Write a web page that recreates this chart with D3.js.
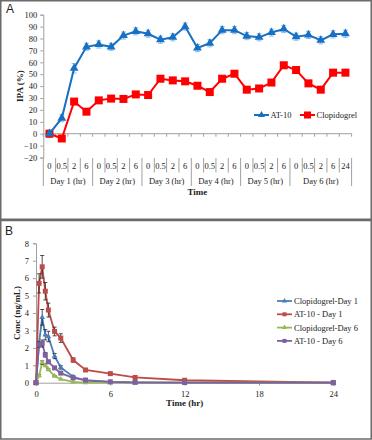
<!DOCTYPE html>
<html>
<head>
<meta charset="utf-8">
<script src="https://cdn.jsdelivr.net/npm/d3@7"></script>
<style>
  body { margin: 0; background: #fff; }
  text { font-family: "Liberation Serif", "DejaVu Serif", serif; fill: #222; }
  .panelLetter { font-family: "Liberation Sans", Arial, sans-serif; font-size: 12px; }
  .axisTitle { font-weight: bold; font-size: 9px; }
</style>
</head>
<body>
<div class="chart"></div>
<script>
// ---------- Panel A data ----------
var dayLabels = ["Day 1 (hr)", "Day 2 (hr)", "Day 3 (hr)", "Day 4 (hr)", "Day 5 (hr)", "Day 6 (hr)"];
var dayHours = [
  ["0", "0.5", "2", "6"],
  ["0", "0.5", "2", "6"],
  ["0", "0.5", "2", "6"],
  ["0", "0.5", "2", "6"],
  ["0", "0.5", "2", "6"],
  ["0", "0.5", "2", "6", "24"]
];
var at10Ipa = [0, 13, 55, 73, 75, 73, 82.5, 86, 84, 79, 81, 90, 72, 76, 87, 87, 82, 81, 85, 88, 81.5, 83, 78.5, 83.5, 84];
var at10Err = [3, 3, 4, 3, 3, 3, 3, 3, 3, 3, 3, 3, 3, 3, 3, 3, 3, 3, 3, 3, 3, 3, 3, 3, 3];
var clopIpa = [0, -4, 27, 18.5, 28, 29.5, 29.2, 33, 32.5, 46.2, 44.8, 44, 40.3, 35, 46.2, 50.4, 37, 38, 43, 57.5, 53.5, 42.3, 37, 51.3, 51.3];
var ipaTicks = [-20, -10, 0, 10, 20, 30, 40, 50, 60, 70, 80, 90, 100];

// ---------- Panel B data ----------
var pkTimes = [0, 0.25, 0.5, 0.75, 1, 1.5, 2, 3, 4, 6, 8, 12, 24];
var clopDay1 = [0, 2.3, 3.75, 2.75, 2.65, 1.53, 0.88, 0.34, 0.12, 0.04, 0.01, 0, 0];
var clopDay1Err = [0, 0, 0.45, 0.3, 0.3, 0.15, 0.1, 0.05, 0, 0, 0, 0, 0];
var at10Day1 = [0, 5.7, 6.65, 5.25, 4.17, 2.94, 2.56, 1.3, 0.73, 0.52, 0.3, 0.14, 0];
var at10Day1Err = [0, 0.55, 0.65, 0.5, 0.4, 0.25, 0.25, 0.12, 0.05, 0.03, 0, 0, 0];
var clopDay6 = [0, 0.4, 1.15, 1.0, 0.75, 0.38, 0.2, 0.05, 0.01, 0, 0, 0, 0];
var clopDay6Err = [0, 0.05, 0.1, 0.08, 0.05, 0.03, 0, 0, 0, 0, 0, 0, 0];
var at10Day6 = [0, 2.2, 2.25, 1.6, 1.2, 0.85, 0.55, 0.28, 0.15, 0.05, 0.02, 0.01, 0];
var at10Day6Err = [0, 0.15, 0.2, 0.12, 0.08, 0.05, 0.03, 0, 0, 0, 0, 0, 0];
var concTicks = [0, 1, 2, 3, 4, 5, 6, 7, 8];
var timeTicks = [0, 6, 12, 18, 24];

var svgWidth = 372;
var svgHeight = 440;

var svg = d3.select(".chart")
  .append("svg")
  .attr("width", svgWidth)
  .attr("height", svgHeight);

// panel frames
svg.append("rect").attr("x", 0.75).attr("y", 0.75).attr("width", 370.5).attr("height", 218.5)
  .attr("fill", "none").attr("stroke", "#6b6b6b").attr("stroke-width", 1.5);
svg.append("rect").attr("x", 0.75).attr("y", 220.5).attr("width", 370.5).attr("height", 218.5)
  .attr("fill", "none").attr("stroke", "#6b6b6b").attr("stroke-width", 1.5);

svg.append("text").attr("class", "panelLetter").attr("x", 6).attr("y", 13).text("A");
svg.append("text").attr("class", "panelLetter").attr("x", 5).attr("y", 235).text("B");

var axisColor = "#a0a0a0";

// =================== Panel A ===================
var catKeys = [];
dayHours.forEach(function(hours, d) {
  hours.forEach(function(h, j) { catKeys.push(d + "-" + j); });
});

var xA = d3.scaleBand().domain(catKeys).range([43.3, 351.6]);
var yA = d3.scaleLinear().domain([-20, 100]).range([157.5, 14.7]);

var gA = svg.append("g");

// y axis
var leftAxisA = d3.axisLeft(yA).tickValues(ipaTicks).tickSize(3).tickPadding(3);
var yAxA = gA.append("g").attr("transform", `translate(${xA.range()[0]},0)`).call(leftAxisA);
yAxA.select(".domain").attr("stroke", axisColor);
yAxA.selectAll(".tick line").attr("stroke", axisColor);
yAxA.selectAll("text").attr("font-family", "Liberation Serif").attr("font-size", 8.5).attr("fill", "#333");

// horizontal zero line with small ticks at category boundaries
gA.append("line")
  .attr("x1", xA.range()[0]).attr("x2", xA.range()[1])
  .attr("y1", yA(0)).attr("y2", yA(0))
  .attr("stroke", axisColor);
gA.selectAll(".zt").data(catKeys.concat(["end"])).enter().append("line")
  .attr("x1", (d, i) => xA.range()[0] + i * xA.bandwidth())
  .attr("x2", (d, i) => xA.range()[0] + i * xA.bandwidth())
  .attr("y1", yA(0)).attr("y2", yA(0) + 3)
  .attr("stroke", axisColor);

// category table below
var rowTop = 158, rowMid = 172.5, rowBot = 186;
var catLabels = [];
dayHours.forEach(function(hours, d) {
  hours.forEach(function(h, j) { catLabels.push({ key: d + "-" + j, text: h, first: j === 0 }); });
});
gA.selectAll(".sep").data(catLabels).enter().append("line")
  .attr("x1", d => xA(d.key)).attr("x2", d => xA(d.key))
  .attr("y1", rowTop).attr("y2", d => d.first ? rowBot : rowMid)
  .attr("stroke", axisColor);
gA.append("line")
  .attr("x1", xA.range()[1]).attr("x2", xA.range()[1])
  .attr("y1", rowTop).attr("y2", rowBot).attr("stroke", axisColor);
gA.selectAll(".catLbl").data(catLabels).enter().append("text")
  .attr("x", d => xA(d.key) + xA.bandwidth() / 2)
  .attr("y", 169)
  .attr("text-anchor", "middle")
  .attr("font-size", 8.5)
  .text(d => d.text);

var dayGroups = dayLabels.map(function(lbl, d) {
  var first = d + "-0";
  var last = d + "-" + (dayHours[d].length - 1);
  return { text: lbl, x0: xA(first), x1: xA(last) + xA.bandwidth() };
});
gA.selectAll(".dayLbl").data(dayGroups).enter().append("text")
  .attr("x", d => (d.x0 + d.x1) / 2)
  .attr("y", 184)
  .attr("text-anchor", "middle")
  .attr("font-size", 8.5)
  .text(d => d.text);

gA.append("text").attr("class", "axisTitle")
  .attr("x", (xA.range()[0] + xA.range()[1]) / 2).attr("y", 195)
  .attr("text-anchor", "middle").text("Time");

gA.append("text").attr("class", "axisTitle")
  .attr("transform", `translate(23, ${yA(40)}) rotate(-90)`)
  .attr("text-anchor", "middle").text("IPA (%)");

var blueA = "#1770c4", redA = "#ff0000";
var cx = i => xA(catKeys[i]) + xA.bandwidth() / 2;

// AT-10 error bars
gA.selectAll(".errA").data(at10Ipa).enter().append("path")
  .attr("d", function(d, i) {
    var x = cx(i), y1 = yA(d + at10Err[i]), y2 = yA(d - at10Err[i]);
    return `M${x},${y1}V${y2}M${x - 2.5},${y1}H${x + 2.5}M${x - 2.5},${y2}H${x + 2.5}`;
  })
  .attr("stroke", "#8fbde6").attr("stroke-width", 1).attr("fill", "none");

var lineA = d3.line().x((d, i) => cx(i)).y(d => yA(d));

gA.append("path").datum(clopIpa).attr("d", lineA)
  .attr("fill", "none").attr("stroke", redA).attr("stroke-width", 2);
gA.selectAll(".sqA").data(clopIpa).enter().append("rect")
  .attr("x", (d, i) => cx(i) - 4).attr("y", d => yA(d) - 4)
  .attr("width", 8).attr("height", 8).attr("fill", redA);

gA.append("path").datum(at10Ipa).attr("d", lineA)
  .attr("fill", "none").attr("stroke", blueA).attr("stroke-width", 2);
var triA = d3.symbol().type(d3.symbolTriangle).size(34);
gA.selectAll(".triA").data(at10Ipa).enter().append("path")
  .attr("d", triA)
  .attr("transform", (d, i) => `translate(${cx(i)},${yA(d)})`)
  .attr("fill", blueA);

// legend A
var legA = [
  { name: "AT-10", color: blueA, shape: "tri", x: 254 },
  { name: "Clopidogrel", color: redA, shape: "sq", x: 300 }
];
var legAg = gA.selectAll(".legA").data(legA).enter().append("g")
  .attr("transform", d => `translate(${d.x},115)`);
legAg.append("line").attr("x1", 0).attr("x2", 15).attr("stroke", d => d.color).attr("stroke-width", 2);
legAg.filter(d => d.shape === "tri").append("path").attr("d", d3.symbol().type(d3.symbolTriangle).size(22))
  .attr("transform", "translate(7.5,0)").attr("fill", d => d.color);
legAg.filter(d => d.shape === "sq").append("rect").attr("x", 4).attr("y", -3.5).attr("width", 7).attr("height", 7)
  .attr("fill", d => d.color);
legAg.append("text").attr("x", 16.5).attr("y", 3).attr("font-size", 8.5).text(d => d.name);

// =================== Panel B ===================
var xB = d3.scaleLinear().domain([0, 24]).range([36, 333.3]);
var yB = d3.scaleLinear().domain([0, 8]).range([382.7, 243.3]);
var gB = svg.append("g");

var leftAxisB = d3.axisLeft(yB).tickValues(concTicks).tickSize(3).tickPadding(4).tickFormat(d3.format("d"));
var yAxB = gB.append("g").attr("transform", `translate(${xB(0)},0)`).call(leftAxisB);
var bottomAxisB = d3.axisBottom(xB).tickValues(timeTicks).tickSize(3).tickPadding(5);
var xAxB = gB.append("g").attr("transform", `translate(0,${yB(0)})`).call(bottomAxisB);
[yAxB, xAxB].forEach(function(ax) {
  ax.select(".domain").attr("stroke", axisColor);
  ax.selectAll(".tick line").attr("stroke", axisColor);
  ax.selectAll("text").attr("font-family", "Liberation Serif").attr("font-size", 8.5).attr("fill", "#333");
});

gB.append("text").attr("class", "axisTitle")
  .attr("x", (xB.range()[0] + xB.range()[1]) / 2).attr("y", 406)
  .attr("text-anchor", "middle").text("Time (hr)");
gB.append("text").attr("class", "axisTitle")
  .attr("transform", `translate(20, ${yB(4)}) rotate(-90)`)
  .attr("text-anchor", "middle").text("Conc (ng/mL)");

var seriesB = [
  { name: "Clopidogrel-Day 1", values: clopDay1, err: clopDay1Err, color: "#4a7ebb", shape: "tri" },
  { name: "AT-10 - Day 1", values: at10Day1, err: at10Day1Err, color: "#be4b48", shape: "sq" },
  { name: "Clopidogrel-Day 6", values: clopDay6, err: clopDay6Err, color: "#98b954", shape: "tri" },
  { name: "AT-10 - Day 6", values: at10Day6, err: at10Day6Err, color: "#7d60a0", shape: "sq" }
];

var lineB = d3.line().x(d => xB(d.t)).y(d => yB(d.v));

seriesB.forEach(function(s) {
  var pts = s.values.map((v, i) => ({ t: pkTimes[i], v: v, e: s.err[i] }));
  gB.append("path").datum(pts).attr("d", lineB)
    .attr("fill", "none").attr("stroke", s.color).attr("stroke-width", 1.8);
  gB.selectAll(null).data(pts.filter(p => p.e > 0)).enter().append("path")
    .attr("d", function(p) {
      var x = xB(p.t), y1 = yB(p.v + p.e), y2 = yB(p.v - p.e);
      return `M${x},${y1}V${y2}M${x - 2},${y1}H${x + 2}M${x - 2},${y2}H${x + 2}`;
    })
    .attr("stroke", "#222").attr("stroke-width", 0.8).attr("fill", "none");
  if (s.shape === "tri") {
    gB.selectAll(null).data(pts).enter().append("path")
      .attr("d", d3.symbol().type(d3.symbolTriangle).size(14))
      .attr("transform", p => `translate(${xB(p.t)},${yB(p.v)})`)
      .attr("fill", s.color);
  } else {
    gB.selectAll(null).data(pts).enter().append("rect")
      .attr("x", p => xB(p.t) - 2.5).attr("y", p => yB(p.v) - 2.5)
      .attr("width", 5).attr("height", 5).attr("fill", s.color);
  }
});

// legend B
var legBg = gB.selectAll(".legB").data(seriesB).enter().append("g")
  .attr("transform", (d, i) => `translate(277,${301 + i * 13.3})`);
legBg.append("line").attr("x1", 0).attr("x2", 15).attr("stroke", d => d.color).attr("stroke-width", 1.8);
legBg.filter(d => d.shape === "tri").append("path").attr("d", d3.symbol().type(d3.symbolTriangle).size(12))
  .attr("transform", "translate(7.5,0)").attr("fill", d => d.color);
legBg.filter(d => d.shape === "sq").append("rect").attr("x", 5.5).attr("y", -2).attr("width", 4).attr("height", 4)
  .attr("fill", d => d.color);
legBg.append("text").attr("x", 17).attr("y", 3).attr("font-size", 8.5).text(d => d.name);
</script>
</body>
</html>
